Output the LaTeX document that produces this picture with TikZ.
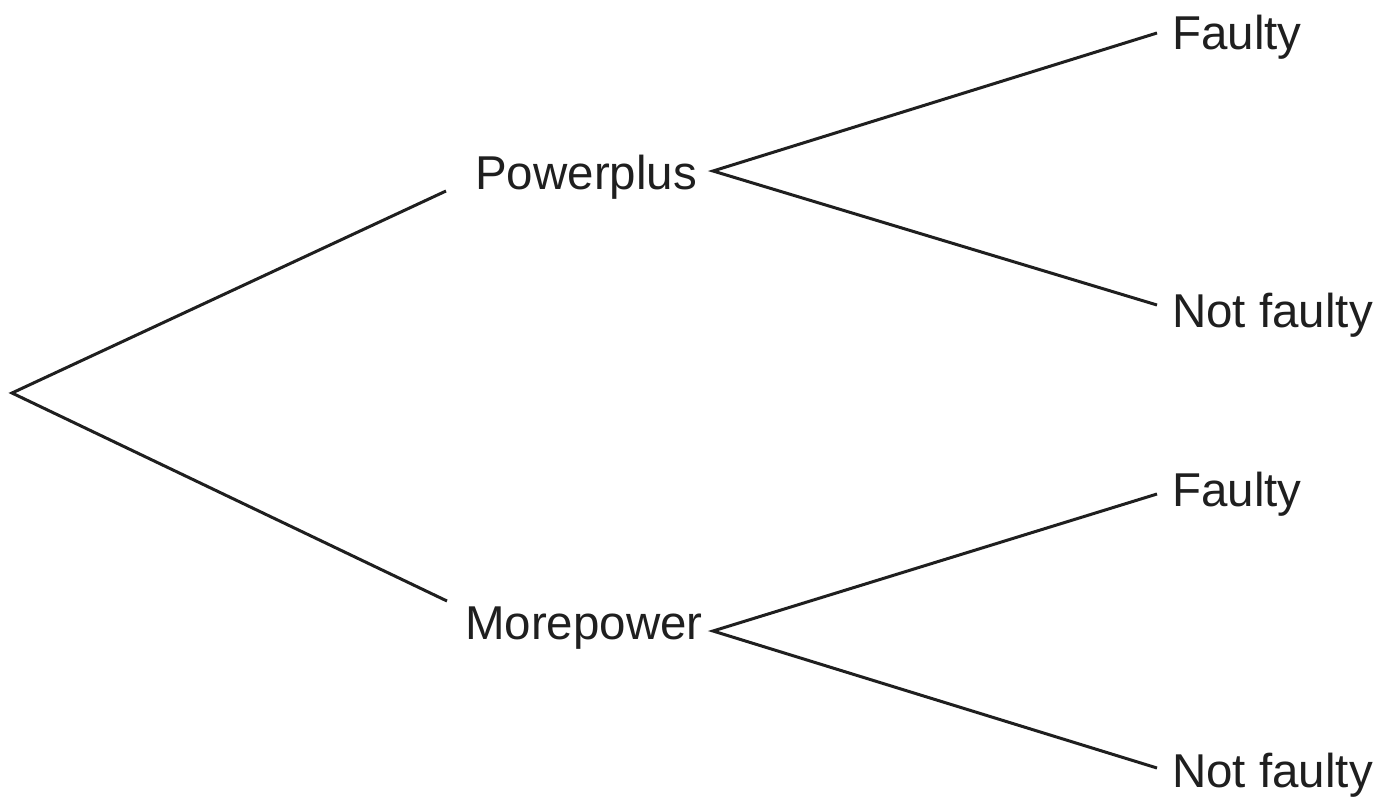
\documentclass[tikz,border=0pt]{standalone}
\usepackage{fontspec}
\setmainfont{Liberation Sans}
\begin{document}
\begin{tikzpicture}[x=1pt,y=-1pt,
  lbl/.style={anchor=base west,inner sep=0pt,font=\fontsize{47.5}{57}\selectfont,text=black!88},
  branch/.style={line width=3pt,draw=black!88,line join=miter}]
\useasboundingbox (0,0) rectangle (1393,798);
% labels
\node[lbl] (pp) at (475,189) {Powerplus};
\node[lbl] (mp) at (465,639) {Morepower};
\node[lbl] (f1) at (1172,49) {Faulty};
\node[lbl] (n1) at (1172,327) {Not faulty};
\node[lbl] (f2) at (1172,506) {Faulty};
\node[lbl] (n2) at (1172,787) {Not faulty};
% branch points
\coordinate (root) at (12,393);
\coordinate (ppin) at (446,191);
\coordinate (mpin) at (447,601);
\coordinate (ppout) at (713,171);
\coordinate (mpout) at (713,631);
\coordinate (f1e) at (1157,33);
\coordinate (n1e) at (1157,305);
\coordinate (f2e) at (1157,494);
\coordinate (n2e) at (1157,768);
% connectors
\draw[branch] (ppin) -- (root) -- (mpin);
\draw[branch] (f1e) -- (ppout) -- (n1e);
\draw[branch] (f2e) -- (mpout) -- (n2e);
\end{tikzpicture}
\end{document}
